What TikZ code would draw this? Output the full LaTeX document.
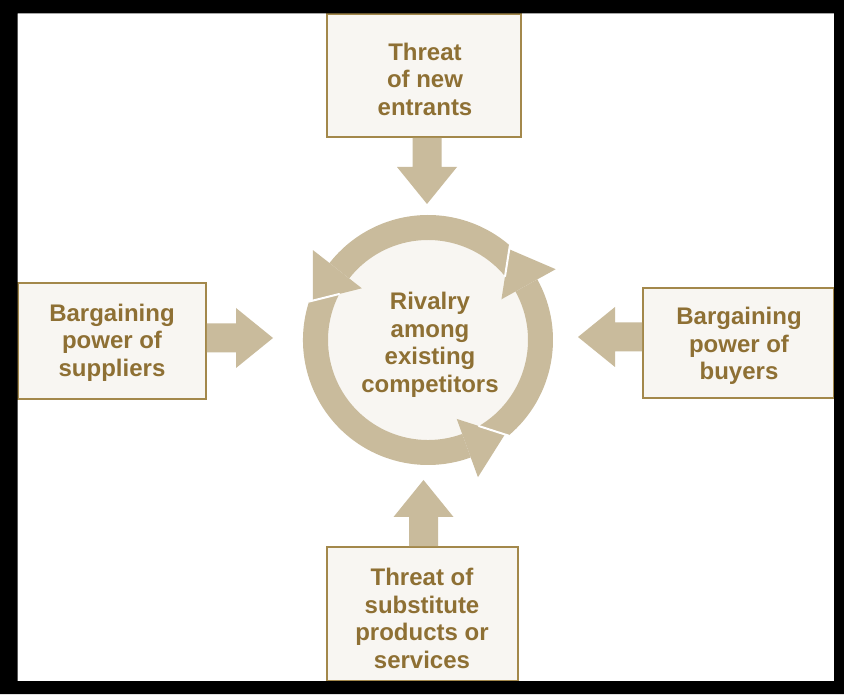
\documentclass[tikz,border=0pt]{standalone}
\usepackage{fontspec}
\setmainfont{Liberation Sans}
\usetikzlibrary{calc}
\definecolor{ringtan}{HTML}{C9BB9C}
\definecolor{textgold}{HTML}{8E7034}
\definecolor{boxline}{HTML}{A3884B}
\definecolor{paper}{HTML}{F8F6F2}
\tikzset{
  forcebox/.style={rectangle, draw=boxline, line width=1.8pt, fill=paper, inner sep=0pt},
  lbl/.style={text=textgold, font=\bfseries\fontsize{24pt}{27.5pt}\selectfont, align=center, inner sep=0pt},
  armfill/.style={fill=ringtan},
  gapline/.style={draw=white, line width=2pt, line cap=round}
}
% block arrow from #1 to #2 (tip)
\newcommand\blockarr[2]{%
  \fill[armfill] let \p1=(#1), \p2=(#2), \n1={atan2(\y2-\y1,\x2-\x1)} in
    ($(#1)+({\n1+90}:14.5pt)$) -- ($(#2)+(\n1:-37pt)+({\n1+90}:14.5pt)$)
    -- ($(#2)+(\n1:-37pt)+({\n1+90}:30pt)$) -- (#2)
    -- ($(#2)+(\n1:-37pt)+({\n1-90}:30pt)$) -- ($(#2)+(\n1:-37pt)+({\n1-90}:14.5pt)$)
    -- ($(#1)+({\n1-90}:14.5pt)$) -- cycle;}
% ring arrow body: #1 previous head base angle, #2 own head base angle
\newcommand\ringbody[2]{%
  \fill[armfill] ($(ring)+({#1+20.1}:125)$) arc[start angle={#1+20.1}, end angle={#2}, radius=125]
    -- ($(ring)+({#2}:100)$) arc[start angle={#2}, end angle={#1+10.6}, radius=100] -- cycle;}
% ring arrow head at base angle #1
\newcommand\ringhead[1]{%
  \fill[armfill] ($(ring)+({#1}:146)$) -- ($(ring)+({#1}:115)+({#1+90}:40)$) -- ($(ring)+({#1}:84)$) -- cycle;
  \draw[gapline] ($(ring)+({#1+10.6}:100)$) -- ($(ring)+({#1+20.1}:125)$);}
\begin{document}
\begin{tikzpicture}[x=1pt,y=1pt]
\useasboundingbox (0,0) rectangle (844,694);
\fill[white] (0,0) rectangle (844,694);

% centre ring
\coordinate (ring) at (428,354);
\node[circle, fill=paper, minimum size=202pt, inner sep=0pt] (rivalry) at (ring) {};
\ringbody{29}{142}
\ringbody{142}{290}
\ringbody{290}{389}
\ringhead{142}
\ringhead{290}
\ringhead{29}
\node[lbl] (rivalrytext) at (430,349) {Rivalry\\among\\existing\\competitors};

% force boxes
\node[forcebox, minimum width=194pt, minimum height=123pt] (entrants) at (424,618.5) {};
\node[forcebox, minimum width=188pt, minimum height=116pt] (suppliers) at (112,353) {};
\node[forcebox, minimum width=191pt, minimum height=110pt] (buyers) at (738.5,351) {};
\node[forcebox, minimum width=191pt, minimum height=134pt] (substitutes) at (422.5,80) {};

\node[lbl] (entrantstext) at (425,615) {Threat\\of new\\entrants};
\node[lbl] (supplierstext) at (112,351.5) {Bargaining\\power of\\suppliers};
\node[lbl] (buyerstext) at (739,348) {Bargaining\\power of\\buyers};
\node[lbl] (substitutestext) at (422,75.5) {Threat of\\substitute\\products or\\services};

% block arrows towards the ring
\coordinate (tipN) at (427,490);
\coordinate (tipW) at (273,356);
\coordinate (tipE) at (578,357);
\coordinate (tipS) at (423.5,214);
\coordinate (startN) at (entrants.south -| tipN);
\coordinate (startW) at (suppliers.east |- tipW);
\coordinate (startE) at (buyers.west |- tipE);
\coordinate (startS) at (substitutes.north -| tipS);
\blockarr{startN}{tipN}
\blockarr{startW}{tipW}
\blockarr{startE}{tipE}
\blockarr{startS}{tipS}

% black frame
\fill[black, even odd rule] (0,0) rectangle (844,694) (17.5,13) rectangle (834,680.5);
\end{tikzpicture}
\end{document}
